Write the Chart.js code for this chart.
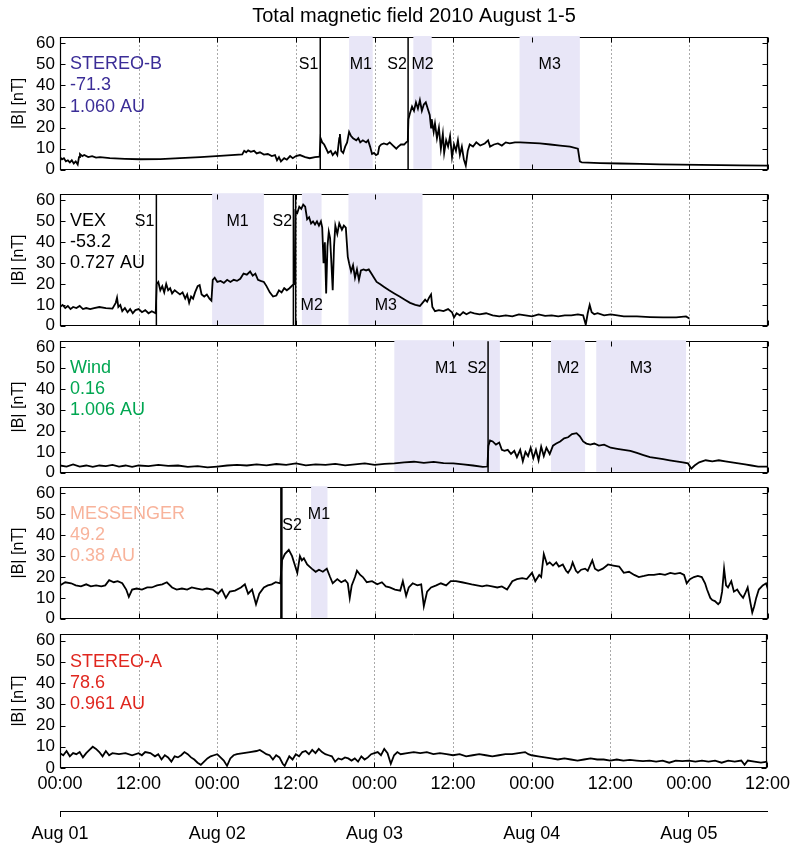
<!DOCTYPE html>
<html>
<head>
<meta charset="utf-8">
<title>Total magnetic field 2010 August 1-5</title>
<script src="https://cdn.jsdelivr.net/npm/chart.js@4"></script>
<style>
  html, body { margin: 0; padding: 0; background: #fff; }
  #fig { position: relative; width: 795px; height: 847px; overflow: hidden; background: #fff; }
  #fig canvas { position: absolute; left: 0; }
</style>
</head>
<body>
<div id="fig"></div>
<script>
// ---- time axis (hours since 2010-08-01 00:00) ----
const timeTicks = [0, 12, 24, 36, 48, 60, 72, 84, 96, 108];
const timeTickLabels = ['00:00', '12:00', '00:00', '12:00', '00:00', '12:00', '00:00', '12:00', '00:00', '12:00'];
const dateTicks = [0, 24, 48, 72, 96];
const dateLabels = ['Aug 01', 'Aug 02', 'Aug 03', 'Aug 04', 'Aug 05'];
const yTicks = [0, 10, 20, 30, 40, 50, 60];
const infoLevels = [50, 40, 30];

// ---- |B| series: [hour, nT] ----
const stereoB = [
  [0,6],[0.3,5],[0.6,5.5],[0.9,4],[1.2,4.5],[1.5,3.5],[1.8,4.5],[2.1,3],[2.4,4],[2.7,2.5],[2.9,6],[3.05,7.5],
  [3.4,6.5],[3.7,7],[4.3,6],[4.9,6.5],[5.5,5.8],[6.1,6],[7.6,5.5],[9.9,5.2],[12.2,5],[15.3,5.1],[18.3,5.5],
  [21.4,6],[24.4,6.6],[27.8,7.3],[28.1,9],[28.4,8.3],[28.7,9.2],[29.1,8.5],[29.6,9],[30,7.8],[30.5,8.3],
  [31.1,7.2],[31.7,7.5],[32.3,6.5],[32.8,7],[33.1,4.5],[33.4,6],[33.7,4],[34.2,5.5],[34.6,4.8],[35.1,6.5],
  [35.5,5.5],[36,6.5],[36.6,7],[37.4,6],[38.1,5.5],[38.9,6],[39.6,6.2],
  [39.75,15],[40,13],[40.3,12],[40.6,10],[40.9,8],[41.3,9],[41.6,7],[42,8.5],[42.3,7],[42.6,15],[42.7,17],
  [42.9,9],[43.2,8],[43.5,11],[43.8,13],[44.1,18],[44.4,16],[44.7,15],[45.2,14],[45.5,15],[45.8,13],[46.2,14],
  [46.7,13],[47,14],[47.3,11],[47.6,7.5],[47.9,8],[48.2,7],[48.5,7.5],[48.7,11],[49,12],[49.4,12.5],[49.9,12],
  [50.3,13],[50.8,11.5],[51.3,10],[51.6,11],[52,12],[52.5,12],[52.8,13],[53.05,13.5],
  [53.15,24],[53.4,27],[53.7,30],[54,28],[54.3,32],[54.6,29],[54.9,33],[55.2,28],[55.5,31],[55.8,32],[56.1,29],
  [56.4,26],[56.6,20],[56.7,24],[57,18],[57.2,22],[57.5,15],[57.8,20],[58.1,10],[58.4,17],[58.6,8],[58.9,14],
  [59.2,11],[59.5,16],[59.8,6],[60.1,12],[60.4,9],[60.7,14],[61,7],[61.3,11],[61.6,5],[61.9,2],[62.2,9],
  [62.5,12],[63,11],[63.5,13],[64.1,11.5],[64.8,12.5],[65.3,14],[65.6,11],[66.2,12],[66.8,12.5],[67.4,11.5],
  [68,13],[68.6,12.5],[69.4,13],[70.2,13],[71.7,12.8],[73.2,12.5],[74.8,12],[76.3,11.5],[77.8,11],[79,10],
  [79.3,4],[79.6,3.5],[82.4,3.2],[85.4,3],[88.5,2.8],[91.5,2.6],[94.6,2.5],[97.6,2.3],[100.7,2.2],[103.7,2.1],[108,2]
];
const vex = [
  [0,9],[0.4,10],[0.8,8.5],[1.2,9.5],[1.6,8],[2,9],[2.5,8.5],[3,9.5],[3.5,8],[4,8.5],[4.6,8],[5.2,8.5],[6,9],
  [7,8.5],[8,8.2],[8.5,11],[8.7,13.5],[8.9,9],[9.2,10],[9.5,7],[9.9,8.5],[10.3,6.5],[10.7,8],[11.1,6],[11.5,7.5],
  [12,8],[12.5,6.5],[13,7.5],[13.5,6],[14,7],[14.6,6],
  [14.75,20],[15,21],[15.3,17],[15.6,19],[15.9,16],[16.2,20],[16.5,17],[16.8,18],[17.1,15.5],[17.5,17],[17.9,16],
  [18.3,15],[18.7,16],[19.1,13],[19.4,15],[19.7,11],[20,14],[20.3,13],[20.6,16],[21,19],[21.3,19.5],[21.6,15],
  [22,14],[22.4,15],[22.8,13],[23.1,12],[23.3,22],[23.6,23],[24,21],[24.5,21.5],[25,20.5],[25.5,22],[26,21],
  [26.5,22],[27,21.5],[27.5,22.5],[28,25],[28.5,24.5],[29,26],[29.4,24],[29.8,25],[30.2,22],[30.6,21.5],[31.1,21],
  [31.5,19],[32,16],[32.5,14],[33,14.5],[33.4,17],[33.8,16],[34.2,18],[34.6,17],[35,18],[35.5,19.5],[35.8,20],
  [35.9,55],[36.2,54],[36.5,57],[36.8,56],[37.1,58],[37.4,57],[37.7,51],[38,52],[38.3,49],[38.6,50],[38.9,48.5],
  [39.2,50],[39.5,48],[39.8,50],[40,47],[40.2,30],[40.4,40],[40.6,15.5],[40.8,38],[41,45],[41.2,42],[41.4,30],
  [41.6,17],[41.8,38],[42,48],[42.3,44],[42.6,49],[43,46],[43.3,48],[43.6,47],[43.9,33],[44.1,30],[44.4,26],
  [44.7,29],[45,23],[45.3,27],[45.6,22],[45.9,26.5],[46.3,27],[46.7,26.5],[47.1,27],[47.5,25],[47.9,23],[48.3,21],
  [48.8,20],[49.5,18.5],[50.2,17],[51,15.5],[51.8,14],[52.6,12.5],[53.4,11],[54.2,10],[54.9,9.5],[55.3,11],
  [55.7,12.5],[56,11.5],[56.3,13.5],[56.6,15],[56.8,9],[57.2,7],[57.8,7.5],[58.5,7],[59.2,8],[59.8,6.5],[60.1,4],
  [60.5,6],[61,5],[61.5,6.5],[62,5.5],[62.6,6.5],[63.2,6],[64,5.5],[65,6],[66,5],[67,4.5],[68,5],[69,4.5],
  [70,5.5],[71,5],[72,4.5],[73,5.5],[74,4.8],[75,5],[76,4.5],[77,5],[78,5],[79,5.5],[79.8,5],[80.2,0.5],
  [80.5,6],[80.8,10],[81.1,6.5],[81.5,5.5],[82,6],[83,5],[84,5.5],[85,5],[86,4.5],[88,4.5],[90,4.2],[92,4],
  [94,4],[95.5,4.5],[96,3.5]
];
const wind = [
  [0,3.5],[1,3],[2,4],[3,3],[4,3.5],[5,2.8],[6,3.5],[7,3.2],[8,3.8],[9,3],[10,3.5],[11,2.8],[12,3.5],[13.5,3.2],
  [15,3.8],[16.5,3.3],[18,3.5],[19.5,2.8],[21,3.2],[22.5,2.6],[24,3],[25.5,3.5],[27,3.8],[28.5,3.5],[30,4],
  [31.5,3.6],[33,4.2],[34.5,3.8],[36,4.5],[37.5,3.6],[39,4],[40.5,3.8],[42,4.3],[43.5,3.6],[45,4],[46.5,4.5],
  [48,3.8],[49.5,4.3],[51,4.5],[52.5,5],[54,5.3],[55.5,4.8],[57,5.2],[58.5,4.6],[60,4.5],[61.5,4],[63,3.5],
  [64.5,2.8],[65.2,3],
  [65.35,13],[65.6,15.5],[66,15],[66.5,13.5],[67,14.5],[67.4,11],[67.8,10.5],[68.3,11],[68.8,9],[69.3,10.5],
  [69.7,7.5],[70.2,11],[70.6,5.5],[71,10],[71.4,8],[71.8,12],[72.2,7],[72.6,11],[73,6],[73.4,12.5],[73.8,8],
  [74.2,12],[74.7,9],[75.2,13],[75.7,14],[76.3,15],[76.9,16.5],[77.5,17],[78.1,18.5],[78.8,19],[79.3,17.5],
  [79.8,15],[80.3,14],[80.9,13.5],[81.5,14],[82.2,13],[83,13.5],[84,12],[85,11.5],[86,11],[87,10.5],[88,9.5],
  [89,8.5],[90,7.5],[91,7],[92,6.5],[93,6],[94,5.5],[95,5],[95.8,4.5],[96.3,2],[96.8,3.5],[97.5,5],[98.5,6],
  [99.5,5.5],[100.5,6],[101.5,5.5],[102.5,5],[103.5,4.5],[104.5,4],[105.5,3.5],[106.5,3],[108,3]
];
const messenger = [
  [0.1,16.2],[0.8,17.5],[1.7,17],[2.4,16],[3.2,15.5],[4,16.5],[4.7,15.5],[5.5,16],[6.3,15.5],[6.9,16],[7.5,18.5],
  [8.2,17.5],[8.8,18],[9.5,17],[10.1,14],[10.5,10.5],[11,14],[11.7,14.5],[12.5,14],[13.3,15],[14,15],[14.8,16],
  [15.6,16.5],[16.3,17.5],[17.1,15],[17.8,14],[18.6,14.5],[19.4,14],[20.1,15],[20.9,14.5],[21.7,14],[22.4,14.5],
  [23.3,14],[24.1,12],[24.7,14],[25.3,10],[25.9,13],[26.7,13.5],[27.6,15],[28.2,16.5],[28.7,12],[29.3,14],
  [29.9,7],[30.4,12],[31.1,15],[31.7,16],[32.3,16.5],[32.9,17.5],[33.6,17],
  [33.86,28],[34.3,31],[34.9,33],[35.4,30],[35.7,27],[36.2,22],[36.6,30],[36.9,28],[37.2,29],[37.7,26],[38.4,24],
  [39,22.5],[39.5,23.5],[40.1,22.5],[40.7,24],[41.2,20],[41.6,17],[42.3,19],[42.9,17.5],[43.5,18.5],[43.9,17],
  [44.2,10],[44.5,16],[45,20],[45.3,23],[45.8,21],[46.2,20],[46.8,17.5],[47.6,18],[48.4,16.5],[49.1,17.5],
  [49.7,15.5],[50.3,15],[51.1,14],[51.9,13.5],[52.3,18],[52.8,11],[53.2,15],[53.8,17],[54.5,16],[55.1,16.5],
  [55.5,6],[56,13],[56.6,15],[57.4,16],[58.1,17],[58.9,16],[59.6,18],[60.4,18],[61.3,17.5],[62.1,17],[62.8,16.5],
  [63.6,16],[64.4,15.5],[65.1,16],[65.9,15.5],[66.7,15],[67.4,15.5],[68.2,14],[69,18],[69.7,19],[70.5,19.5],
  [71.2,19],[72,22],[72.5,18],[73.1,21],[73.4,20],[73.8,31],[74.3,26],[74.7,27],[75.2,25.5],[75.7,27],[76.1,25],
  [76.7,26],[77.2,23],[77.5,22],[77.9,24],[78.2,27],[78.7,23],[79,22],[79.5,23.5],[80.1,24],[80.5,23],[81.2,28],
  [81.6,24],[82.1,23],[82.8,24],[83.6,26],[84.4,25.5],[85.3,25],[86,22],[86.8,22.5],[87.6,21],[88.3,20],
  [89.1,20.5],[89.8,21],[90.6,21],[91.5,21.5],[92.3,21],[93.1,22],[93.8,21.5],[94.6,22],[95.2,21],[95.6,17],
  [96.1,19],[96.7,20],[97.3,20.5],[97.9,20],[98.4,17],[98.7,14],[99.2,10],[99.5,9],[99.9,8.5],[100.4,7],
  [100.7,8],[101,13],[101.3,24],[101.6,16],[101.9,15],[102.4,18],[102.8,13],[103.3,14],[103.7,12],[104.2,10],
  [104.5,12],[104.9,15],[105.3,8],[105.6,3],[105.9,6],[106.2,10],[106.6,14],[107.2,16],[107.7,17],[108,14]
];
const stereoA = [
  [0,7],[0.5,6],[1,8],[1.5,5.5],[2,7],[2.5,6.5],[3,7.5],[3.5,5],[4,7],[4.5,8.5],[5,10],[5.5,9],[6,7.5],[6.5,5.5],
  [7,8],[7.5,6],[8,7],[9,6.5],[10,7],[11,6],[12,7],[12.5,6],[13,7.5],[13.8,7],[14.5,5.5],[15,6.5],[15.5,4],
  [16,6],[16.5,5],[17,3],[17.5,5.5],[18,5],[18.5,6],[19,7.5],[19.5,6.5],[20,5],[20.5,4],[21,2.5],[21.5,1.5],
  [22,3],[22.5,4.5],[23,5.5],[23.5,6],[24,6.5],[24.5,5],[25,3.5],[25.5,1],[26,4.5],[26.5,6],[27,6.5],[28,7],
  [29,7.5],[30,8],[30.5,8.5],[31,7.5],[31.5,6.5],[32,6],[32.5,4],[33,6],[33.5,5],[34,2],[34.3,1],[34.6,3],
  [35,5.5],[35.5,4],[36,6.5],[36.5,5.5],[37,7.5],[37.5,8],[38,6.5],[38.5,8.5],[39,7],[39.5,9],[40,7.5],[40.5,6.5],
  [41,6],[41.5,5.5],[42,3],[42.5,4.5],[43,4],[43.5,5],[44,4.5],[44.5,3.5],[45,4.5],[45.5,3],[46,5.5],[46.5,4],
  [47,5],[47.5,6.5],[48,7],[48.5,7.5],[49,6],[49.5,9],[50,7],[50.5,2],[51,6],[51.5,7.5],[52,6.5],[53,7],
  [54,7.5],[55,7],[56,7.5],[57,6.5],[58,7],[59,6.5],[60,6],[61,6.5],[62,5.5],[63,6],[64,6.5],[65,6],[66,5.5],
  [67,6],[68,6.5],[69,6.5],[70,7],[71,7.5],[71.5,6.5],[72,6],[73,5.5],[74,5],[75,4.5],[76,4],[77,4.5],[78,4],
  [79,3.5],[80,4],[81,4.5],[82,4],[83,4],[84,3.5],[85,4],[86,3.5],[87,3.8],[88,3.5],[89,3.2],[90,3.5],[91,3],
  [92,3.5],[93,2.5],[94,3.5],[95,3.2],[96,3.5],[97,3],[98,3.5],[99,3],[100,3.5],[101,2.5],[102,3.5],[103,3],
  [104,3.5],[104.5,1.5],[105,3.5],[106,3],[107,2.5],[108,3]
];

// ---- events: shock times [hour], magnetic-cloud intervals [start, end] ----
const stereoBShocks = [39.7, 53.1];
const stereoBClouds = [[44.1, 47.7], [53.9, 56.7], [70.1, 79.3]];
const vexShocks = [14.7, 35.6, 35.95];
const vexClouds = [[23.2, 31.1], [36.9, 39.9], [44.0, 55.3]];
const windShocks = [65.3];
const windClouds = [[51.0, 67.1], [74.9, 80.1], [81.8, 95.5]];
const messengerShocks = [33.77];
const messengerClouds = [[38.3, 40.8]];

// ---- event labels: [text, hour, level nT, alignment] ----
const stereoBLabels = [['S1', 39.4, 50, 'right'], ['M1', 45.9, 50, 'center'], ['S2', 52.9, 50, 'right'],
                       ['M2', 55.3, 50, 'center'], ['M3', 74.7, 50, 'center']];
const vexLabels = [['S1', 14.4, 50, 'right'], ['M1', 27.1, 50, 'center'], ['S2', 35.4, 50, 'right'],
                   ['M2', 38.4, 9.5, 'center'], ['M3', 49.7, 9.5, 'center']];
const windLabels = [['M1', 58.9, 50, 'center'], ['S2', 65.1, 50, 'right'], ['M2', 77.5, 50, 'center'],
                    ['M3', 88.6, 50, 'center']];
const messengerLabels = [['S2', 35.4, 44.5, 'center'], ['M1', 39.5, 50, 'center']];

// ---- spacecraft info: name, longitude, distance ----
const stereoBInfo = ['STEREO-B', '-71.3', '1.060 AU'];
const vexInfo = ['VEX', '-53.2', '0.727 AU'];
const windInfo = ['Wind', '0.16', '1.006 AU'];
const messengerInfo = ['MESSENGER', '49.2', '0.38 AU'];
const stereoAInfo = ['STEREO-A', '78.6', '0.961 AU'];

const FONT = "'Liberation Sans', Arial, Helvetica, sans-serif";
const SHADE = '#e8e6f7';

const panels = [
  { series: stereoB, shocks: stereoBShocks, clouds: stereoBClouds, labels: stereoBLabels, info: stereoBInfo,
    color: '#3b2d97', top: 0, height: 185, padTop: 0, padBottom: 12, shockWidth: 1.5 },
  { series: vex, shocks: vexShocks, clouds: vexClouds, labels: vexLabels, info: vexInfo,
    color: '#000000', top: 179, height: 162, padTop: 14, padBottom: 12, shockWidth: 1.5 },
  { series: wind, shocks: windShocks, clouds: windClouds, labels: windLabels, info: windInfo,
    color: '#00a651', top: 326, height: 162, padTop: 14, padBottom: 12, shockWidth: 1.5 },
  { series: messenger, shocks: messengerShocks, clouds: messengerClouds, labels: messengerLabels, info: messengerInfo,
    color: '#f8b39b', top: 472, height: 162, padTop: 14, padBottom: 12, shockWidth: 2.5 },
  { series: stereoA, shocks: [], clouds: [], labels: [], info: stereoAInfo,
    color: '#e0271f', top: 619, height: 228, padTop: 14, padBottom: 0, shockWidth: 1.5 }
];

// frame, inward ticks, dotted grid, cloud shading, shock lines and annotations
const panelPlugin = {
  id: 'panel',
  beforeDatasetsDraw(chart, args, opts) {
    const p = panels[opts.idx];
    const { ctx, chartArea: a } = chart;
    const xs = chart.scales.x, ys = chart.scales.y;
    const L = Math.round(a.left) + 0.5, R = Math.round(a.right) - 0.5;
    const T = Math.round(a.top) + 0.5, B = Math.round(a.bottom) - 0.5;
    const seg = (x0, y0, x1, y1) => { ctx.beginPath(); ctx.moveTo(x0, y0); ctx.lineTo(x1, y1); ctx.stroke(); };
    ctx.save();
    ctx.lineWidth = 1;
    ctx.strokeStyle = '#555';
    ctx.setLineDash([1, 3]);
    timeTicks.slice(1, -1).forEach(h => {
      const px = Math.round(xs.getPixelForValue(h)) + 0.5;
      seg(px, T, px, B);
    });
    ctx.setLineDash([]);
    ctx.strokeStyle = '#000';
    seg(L, T, R, T);
    ctx.fillStyle = SHADE;
    p.clouds.forEach(([s, e]) => {
      const x0 = xs.getPixelForValue(s), x1 = xs.getPixelForValue(e);
      ctx.fillRect(x0, a.top - 1, x1 - x0, a.bottom - a.top);
    });
    ctx.strokeStyle = '#000';
    ctx.lineWidth = 1.2;
    seg(L, T - 0.5, L, B + 0.5);
    seg(R, T - 0.5, R, B + 0.5);
    seg(L, B, R, B);
    ctx.lineWidth = 1;
    yTicks.forEach(v => {
      const py = Math.round(ys.getPixelForValue(v)) + 0.5;
      seg(L, py, L + 5, py);
      seg(R, py, R - 5, py);
    });
    timeTicks.forEach(h => {
      const px = Math.round(xs.getPixelForValue(h)) + 0.5;
      seg(px, B, px, B - 5);
      seg(px, T, px, T + 5);
    });
    ctx.restore();
  },
  afterDatasetsDraw(chart, args, opts) {
    const p = panels[opts.idx];
    const { ctx, chartArea: a } = chart;
    const xs = chart.scales.x, ys = chart.scales.y;
    ctx.save();
    ctx.strokeStyle = '#000';
    ctx.lineWidth = p.shockWidth;
    p.shocks.forEach(h => {
      const px = xs.getPixelForValue(h);
      ctx.beginPath(); ctx.moveTo(px, a.top); ctx.lineTo(px, a.bottom); ctx.stroke();
    });
    ctx.fillStyle = '#000';
    ctx.textBaseline = 'middle';
    ctx.font = '16px ' + FONT;
    p.labels.forEach(([txt, h, lvl, al]) => {
      ctx.textAlign = al;
      ctx.fillText(txt, xs.getPixelForValue(h), ys.getPixelForValue(lvl));
    });
    ctx.textAlign = 'left';
    ctx.fillStyle = p.color;
    ctx.font = '18px ' + FONT;
    p.info.forEach((txt, i) => ctx.fillText(txt, a.left + 10, ys.getPixelForValue(infoLevels[i])));
    ctx.restore();
  }
};

const fig = document.getElementById('fig');
panels.forEach((p, idx) => {
  const cv = document.createElement('canvas');
  cv.width = 795; cv.height = p.height;
  cv.style.width = '795px'; cv.style.height = p.height + 'px';
  cv.style.top = p.top + 'px';
  fig.appendChild(cv);
  const last = idx === panels.length - 1;
  const scales = {
    x: {
      type: 'linear', min: 0, max: 108, position: 'bottom', weight: 0, display: last,
      afterFit(s) { if (last) s.height = 43; },
      grid: { display: false, drawTicks: false },
      border: { display: false },
      afterBuildTicks(s) { s.ticks = timeTicks.map(v => ({ value: v })); },
      ticks: {
        autoSkip: false, maxRotation: 0, color: '#000', padding: 5,
        font: { family: FONT, size: 18 },
        callback: (v, i) => timeTickLabels[i]
      }
    },
    y: {
      type: 'linear', min: 0, max: 63, position: 'left',
      afterFit(s) { s.width = 60; },
      grid: { display: false, drawTicks: false },
      border: { display: false },
      afterBuildTicks(s) { s.ticks = yTicks.map(v => ({ value: v })); },
      ticks: { autoSkip: false, color: '#000', padding: 5, font: { family: FONT, size: 17 } },
      title: { display: true, text: '|B| [nT]', color: '#000', font: { family: FONT, size: 16 },
               padding: { top: 9, bottom: 0 } }
    }
  };
  if (last) {
    scales.x2 = {
      type: 'linear', min: 0, max: 108, position: 'bottom', weight: 1,
      afterFit(s) { s.height = 36; },
      afterBuildTicks(s) { s.ticks = dateTicks.map(v => ({ value: v })); },
      grid: { display: true, drawOnChartArea: false, drawTicks: true, tickLength: 6, color: '#000', lineWidth: 1 },
      border: { display: true, color: '#000', width: 1 },
      ticks: {
        autoSkip: false, maxRotation: 0, color: '#000', padding: 6,
        font: { family: FONT, size: 18 },
        callback: (v, i) => dateLabels[i]
      }
    };
  }
  new Chart(cv, {
    type: 'line',
    data: {
      datasets: [{
        data: p.series.map(([h, b]) => ({ x: h, y: b })),
        borderColor: '#000', borderWidth: 1.8, pointRadius: 0, tension: 0, fill: false
      }]
    },
    options: {
      responsive: false, animation: false, devicePixelRatio: 1,
      layout: { padding: { left: 0, right: 27, top: p.padTop, bottom: p.padBottom } },
      plugins: {
        legend: { display: false },
        tooltip: { enabled: false },
        title: idx === 0 ? {
          display: true, text: 'Total magnetic field 2010 August 1-5', color: '#000',
          font: { family: FONT, size: 20, weight: 'normal' }, padding: { top: 4, bottom: 9 }, fullSize: false
        } : { display: false },
        panel: { idx }
      },
      scales
    },
    plugins: [panelPlugin]
  });
});
</script>
</body>
</html>
